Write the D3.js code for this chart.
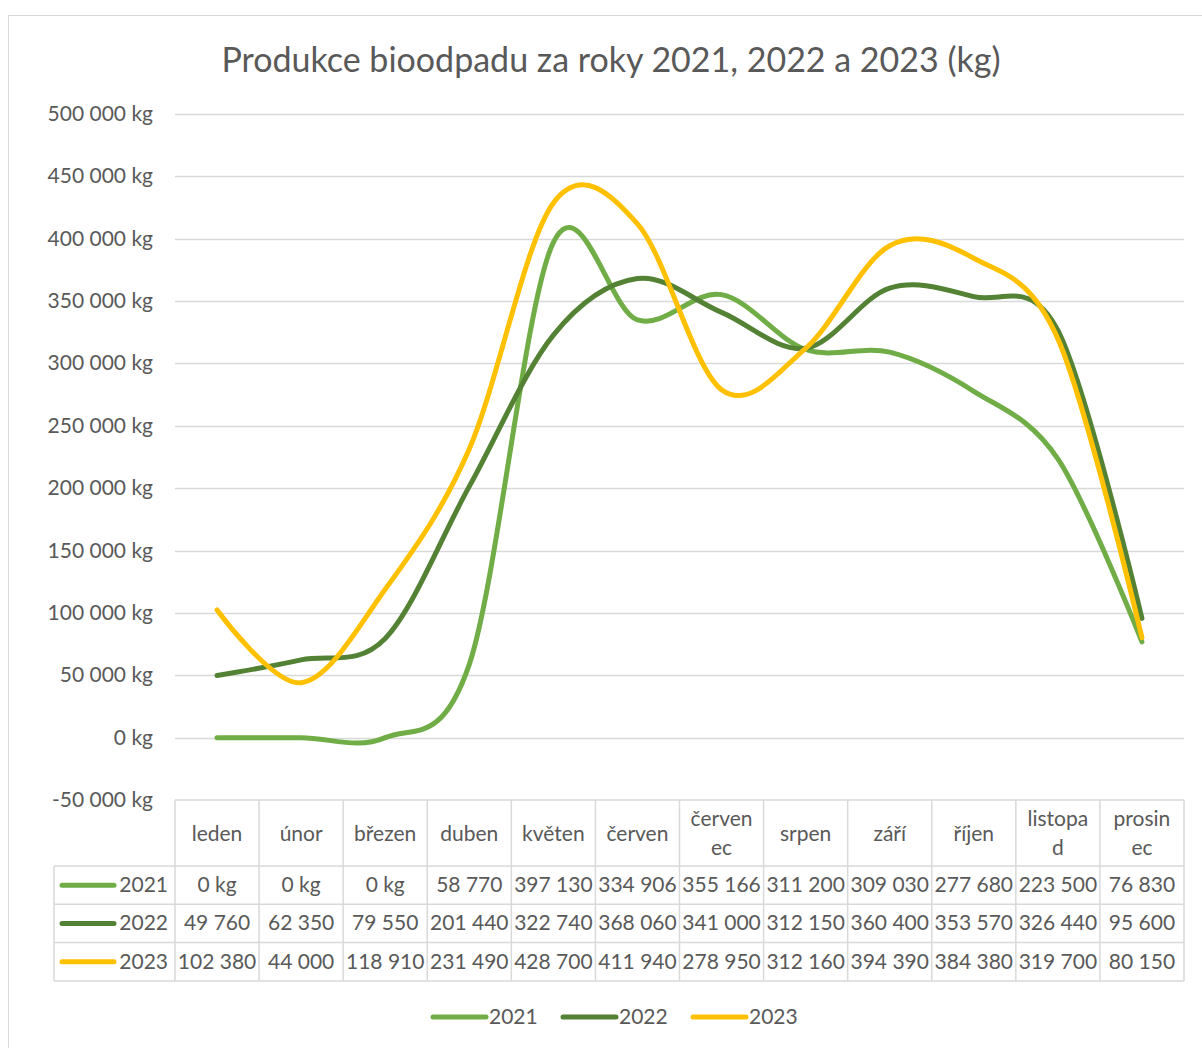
<!DOCTYPE html>
<html>
<head>
<meta charset="utf-8">
<script src="https://cdn.jsdelivr.net/npm/d3@7"></script>
<style>
  body { margin: 0; background: #fff; }
  text { font-family: Lato, "Open Sans", sans-serif; fill: #595959; }
</style>
</head>
<body>
<div id="chart"></div>
<script>
'use strict';

var months = ['leden', 'únor', 'březen', 'duben', 'květen', 'červen', 'červenec', 'srpen', 'září', 'říjen', 'listopad', 'prosinec'];
var years = ['2021', '2022', '2023'];
var values2021 = [0, 0, 0, 58770, 397130, 334906, 355166, 311200, 309030, 277680, 223500, 76830];
var values2022 = [49760, 62350, 79550, 201440, 322740, 368060, 341000, 312150, 360400, 353570, 326440, 95600];
var values2023 = [102380, 44000, 118910, 231490, 428700, 411940, 278950, 312160, 394390, 384380, 319700, 80150];
var yTicks = [-50000, 0, 50000, 100000, 150000, 200000, 250000, 300000, 350000, 400000, 450000, 500000];
var colors = ['#70AD47', '#548235', '#FFC000'];

var series = [values2021, values2022, values2023];

var width = 1202, height = 1048;
var plotLeft = 175, plotRight = 1184, plotTop = 114, plotBottom = 800;
var fontSize = '21px';

var svg = d3.select('#chart')
            .append('svg')
            .attr('width', width)
            .attr('height', height);

// chart border
svg.append('rect')
   .attr('x', 8.5).attr('y', 15.5)
   .attr('width', 1210).attr('height', 1060)
   .attr('fill', 'none')
   .attr('stroke', '#d9d9d9');

svg.append('text')
   .attr('x', 611).attr('y', 72)
   .attr('text-anchor', 'middle')
   .style('font-size', '34px')
   .text('Produkce bioodpadu za roky 2021, 2022 a 2023 (kg)');

var x = d3.scaleBand().domain(months).range([plotLeft, plotRight]);
var y = d3.scaleLinear().domain([-50000, 500000]).range([plotBottom, plotTop]);

var fmt = function(v) {
  if (v === 0) return '0 kg';
  return d3.format(',')(v).replace(/,/g, ' ');
};

// gridlines
svg.append('g')
   .selectAll('line')
   .data(yTicks.filter(function(t) { return t > -50000; }))
   .enter().append('line')
   .attr('x1', plotLeft).attr('x2', plotRight)
   .attr('y1', function(d) { return Math.round(y(d)) + 0.5; })
   .attr('y2', function(d) { return Math.round(y(d)) + 0.5; })
   .attr('stroke', '#d9d9d9')
   .attr('stroke-width', 1.5);

// y axis labels
svg.append('g')
   .selectAll('text')
   .data(yTicks)
   .enter().append('text')
   .attr('x', 153)
   .attr('y', function(d) { return y(d) + 7; })
   .attr('text-anchor', 'end')
   .style('font-size', fontSize)
   .text(function(d) { return (d < 0 ? '-' : '') + d3.format(',')(Math.abs(d)).replace(/,/g, ' ') + ' kg'; });

// lines
var line = d3.line()
             .x(function(d, i) { return x(months[i]) + x.bandwidth() / 2; })
             .y(function(d) { return y(d); })
             .curve(d3.curveCardinal.tension(0));

svg.append('g')
   .selectAll('path')
   .data(series)
   .enter().append('path')
   .attr('d', line)
   .attr('fill', 'none')
   .attr('stroke', function(d, i) { return colors[i]; })
   .attr('stroke-width', 5)
   .attr('stroke-linecap', 'round')
   .attr('stroke-linejoin', 'round');

// data table
var headerH = 66, rowH = 38.3;
var tableTop = plotBottom, rowLabelLeft = 54;
var table = svg.append('g');
var gridColor = '#d9d9d9';

table.append('line')
     .attr('x1', plotLeft).attr('x2', plotRight)
     .attr('y1', tableTop).attr('y2', tableTop)
     .attr('stroke', gridColor).attr('stroke-width', 1.5);

var edges = months.map(function(m) { return x(m); }).concat([plotRight]);
table.selectAll('line.v')
     .data(edges)
     .enter().append('line')
     .attr('class', 'v')
     .attr('x1', function(d) { return d; }).attr('x2', function(d) { return d; })
     .attr('y1', tableTop).attr('y2', tableTop + headerH + rowH * 3)
     .attr('stroke', gridColor).attr('stroke-width', 1.5);

table.selectAll('line.h')
     .data([0, 1, 2, 3])
     .enter().append('line')
     .attr('class', 'h')
     .attr('x1', rowLabelLeft).attr('x2', plotRight)
     .attr('y1', function(d) { return tableTop + headerH + d * rowH; })
     .attr('y2', function(d) { return tableTop + headerH + d * rowH; })
     .attr('stroke', gridColor).attr('stroke-width', 1.5);

table.append('line')
     .attr('x1', rowLabelLeft).attr('x2', rowLabelLeft)
     .attr('y1', tableTop + headerH).attr('y2', tableTop + headerH + rowH * 3)
     .attr('stroke', gridColor).attr('stroke-width', 1.5);

// header labels, wrapped to the column width
var maxW = 66;
months.forEach(function(m) {
  var cx = x(m) + x.bandwidth() / 2;
  var t = table.append('text')
               .attr('x', cx)
               .attr('text-anchor', 'middle')
               .style('font-size', fontSize)
               .text(m);
  if (t.node().getComputedTextLength() > maxW) {
    var cut = m.length;
    while (cut > 1) {
      t.text(m.slice(0, cut));
      if (t.node().getComputedTextLength() <= maxW) break;
      cut--;
    }
    t.text(null);
    t.append('tspan').attr('x', cx).attr('y', tableTop + 26).text(m.slice(0, cut));
    t.append('tspan').attr('x', cx).attr('y', tableTop + 55).text(m.slice(cut));
  } else {
    t.attr('y', tableTop + 41);
  }
});

// data rows
series.forEach(function(vals, r) {
  var ry = tableTop + headerH + r * rowH;
  table.append('line')
       .attr('x1', 62).attr('x2', 114)
       .attr('y1', ry + rowH / 2).attr('y2', ry + rowH / 2)
       .attr('stroke', colors[r]).attr('stroke-width', 5)
       .attr('stroke-linecap', 'round');
  table.append('text')
       .attr('x', 168).attr('y', ry + rowH / 2 + 7)
       .attr('text-anchor', 'end')
       .style('font-size', fontSize)
       .text(years[r]);
  table.selectAll(null)
       .data(vals)
       .enter().append('text')
       .attr('x', function(d, i) { return x(months[i]) + x.bandwidth() / 2; })
       .attr('y', ry + rowH / 2 + 7)
       .attr('text-anchor', 'middle')
       .style('font-size', fontSize)
       .text(fmt);
});

// legend
var legend = svg.append('g');
var legendX = [433, 563, 693];
years.forEach(function(yr, i) {
  legend.append('line')
        .attr('x1', legendX[i]).attr('x2', legendX[i] + 53)
        .attr('y1', 1017).attr('y2', 1017)
        .attr('stroke', colors[i]).attr('stroke-width', 5)
        .attr('stroke-linecap', 'round');
  legend.append('text')
        .attr('x', legendX[i] + 56).attr('y', 1024)
        .style('font-size', fontSize)
        .text(yr);
});
</script>
</body>
</html>
